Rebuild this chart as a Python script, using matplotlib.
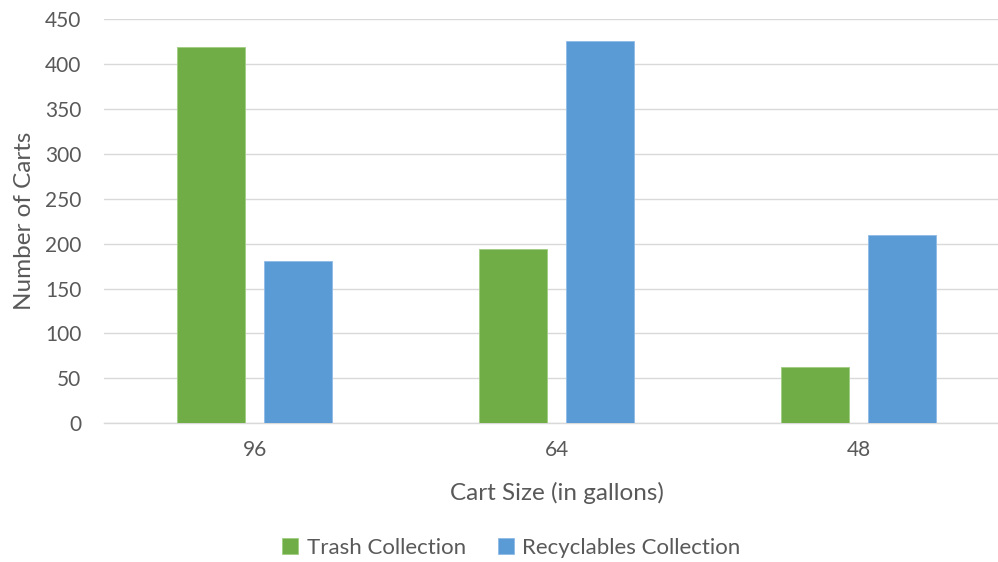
import matplotlib
matplotlib.use("Agg")
import matplotlib.pyplot as plt
import numpy as np

plt.rcParams['font.family'] = ['Lato', 'DejaVu Sans']

cart_sizes = ["96", "64", "48"]
trash = [419, 194, 63]
recyclables = [181, 425, 210]
y_ticks = [0, 50, 100, 150, 200, 250, 300, 350, 400, 450]

GREEN = "#70AD47"
BLUE = "#5B9BD5"
GRID = "#D9D9D9"
TEXT = "#595959"

fig = plt.figure(figsize=(9.98, 5.62), dpi=100)
ax = fig.add_axes([103.5 / 998, (562 - 423.3) / 562, 906 / 998, 404.3 / 562])

x = np.arange(len(cart_sizes))
bw = 0.225
off = 0.1427
ax.bar(x - off, trash, bw, color=GREEN, edgecolor="#9fcf80", linewidth=0.6,
       label="Trash Collection", zorder=3)
ax.bar(x + off, recyclables, bw, color=BLUE, edgecolor="#8fbbe6", linewidth=0.6,
       label="Recyclables Collection", zorder=3)

ax.set_xlim(-0.5, 2.5)
ax.set_ylim(0, 450)
ax.set_yticks(y_ticks)
ax.set_xticks(x)
ax.set_xticklabels(cart_sizes)
ax.yaxis.grid(True, color=GRID, linewidth=1.0, zorder=0)
ax.set_axisbelow(True)
for s in ["top", "right", "left"]:
    ax.spines[s].set_visible(False)
ax.spines["bottom"].set_color(GRID)
ax.spines["bottom"].set_linewidth(1.0)
ax.tick_params(axis="both", length=0, labelsize=15, labelcolor=TEXT)
ax.tick_params(axis="y", pad=16)
ax.tick_params(axis="x", pad=12)

ax.set_xlabel("Cart Size (in gallons)", fontsize=17.5, color=TEXT, labelpad=16)
ax.set_ylabel("Number of Carts", fontsize=17.5, color=TEXT, labelpad=7)

fig.legend(loc="center", bbox_to_anchor=(511.5 / 998, 1 - 548 / 562), ncol=2,
           frameon=False, fontsize=16, labelcolor=TEXT, handlelength=0.7,
           handleheight=0.7, handletextpad=0.4, columnspacing=1.45)

fig.savefig("out.png", dpi=100)
